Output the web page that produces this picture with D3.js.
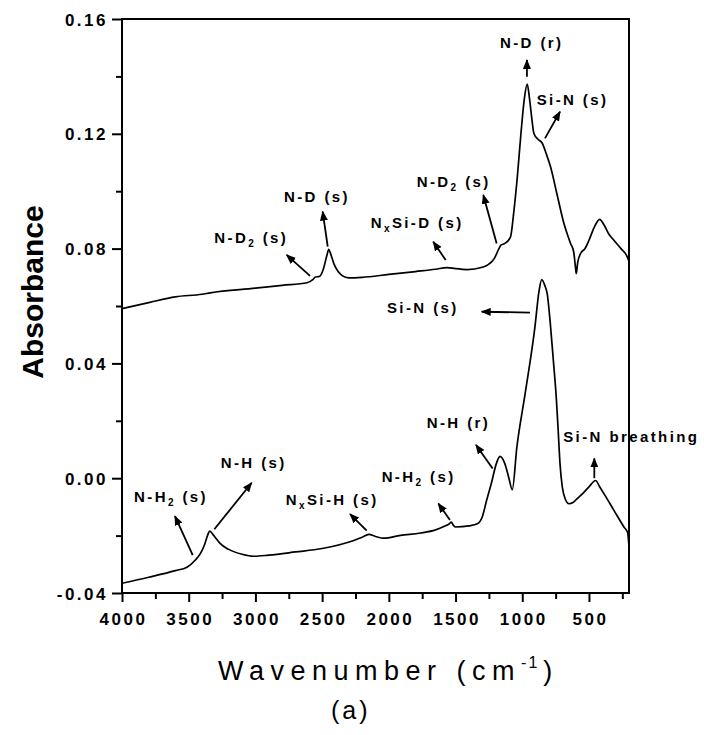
<!DOCTYPE html>
<html lang='en'>
  <meta charset='utf-8'>
  <style>
    body{ margin: 0; background: #fff; }
    svg{ display: block; }
    text{ font-family: 'Liberation Sans', Arial, sans-serif; fill: #000; }
    .tick-label{ font-size: 17px; font-weight: bold; letter-spacing: 2.5px; }
    .note{ font-size: 15px; font-weight: bold; letter-spacing: 2.4px; }
    .ytitle{ font-size: 30px; font-weight: bold; }
    .xtitle{ font-size: 27px; letter-spacing: 6.5px; }
    .panel{ font-size: 25px; letter-spacing: 3px; }
  </style>
  <body>
    <svg id='chart' width='704' height='735'></svg>

    <script src='https://d3js.org/d3.v7.min.js'></script>
    <script>
      // deuterated film (upper trace)
      const ndWave = [4000, 3800, 3600, 3400, 3338, 3000, 2800, 2613, 2570, 2550, 2520, 2490, 2465, 2450, 2435, 2410, 2380, 2350, 2300, 2200, 2000, 1800, 1650, 1563, 1500, 1413, 1300, 1263, 1210, 1175, 1160, 1130, 1088, 1062, 1037, 1010, 985, 963, 945, 925, 913, 880, 850, 820, 788, 740, 688, 638, 615, 600, 595, 585, 563, 530, 500, 460, 420, 390, 350, 313, 260, 213, 200]
      const ndAbs = [0.0591, 0.0612, 0.0632, 0.0641, 0.0646, 0.0662, 0.0672, 0.0681, 0.0692, 0.0701, 0.0703, 0.0730, 0.0775, 0.0797, 0.0780, 0.0745, 0.0720, 0.0706, 0.0698, 0.0700, 0.0710, 0.0720, 0.0728, 0.0734, 0.0730, 0.0727, 0.0735, 0.0742, 0.0765, 0.0800, 0.0812, 0.0818, 0.0841, 0.0934, 0.1050, 0.1200, 0.1320, 0.1373, 0.1320, 0.1240, 0.1201, 0.1180, 0.1167, 0.1130, 0.1085, 0.0990, 0.0888, 0.0818, 0.0790, 0.0730, 0.0713, 0.0750, 0.0783, 0.0800, 0.0829, 0.0875, 0.0902, 0.0885, 0.0850, 0.0829, 0.0800, 0.0771, 0.0755]

      // hydrogenated film (lower trace)
      const nhWave = [4000, 3800, 3600, 3513, 3450, 3413, 3380, 3355, 3343, 3320, 3290, 3263, 3200, 3100, 3013, 2900, 2700, 2500, 2263, 2200, 2150, 2100, 2038, 1913, 1763, 1650, 1588, 1545, 1533, 1515, 1500, 1400, 1337, 1300, 1267, 1230, 1195, 1167, 1130, 1100, 1075, 1040, 980, 905, 875, 854, 830, 813, 790, 767, 745, 730, 717, 700, 680, 650, 620, 588, 540, 500, 450, 420, 380, 313, 238, 210, 200]
      const nhAbs = [-0.0366, -0.0345, -0.0322, -0.0310, -0.0285, -0.0263, -0.0230, -0.0195, -0.0184, -0.0195, -0.0213, -0.0228, -0.0248, -0.0265, -0.0272, -0.0268, -0.0257, -0.0245, -0.0217, -0.0206, -0.0196, -0.0203, -0.0209, -0.0199, -0.0191, -0.0180, -0.0168, -0.0158, -0.0153, -0.0165, -0.0170, -0.0166, -0.0159, -0.0135, -0.0077, -0.0015, 0.0050, 0.0076, 0.0050, 0.0000, -0.0040, 0.0110, 0.0290, 0.0527, 0.0650, 0.0692, 0.0670, 0.0643, 0.0540, 0.0410, 0.0280, 0.0160, 0.0050, -0.0030, -0.0070, -0.0089, -0.0085, -0.0071, -0.0050, -0.0030, -0.0008, -0.0030, -0.0060, -0.0112, -0.0170, -0.0190, -0.0240]

      const xTicks = [4000, 3500, 3000, 2500, 2000, 1500, 1000, 500]
      const xMinor = [3750, 3250, 2750, 2250, 1750, 1250, 750, 250]
      const yTicks = [-0.04, 0.00, 0.04, 0.08, 0.12, 0.16]
      const yMinor = [-0.02, 0.02, 0.06, 0.10, 0.14]

      // band assignments: label, label anchor (wavenumber, absorbance), arrow tail, arrow head
      const noteText = ['N-D (r)', 'Si-N (s)', 'N-D|2| (s)', 'N|x|Si-D (s)', 'N-D (s)', 'N-D|2| (s)',
                        'Si-N (s)', 'N-H (r)', 'Si-N breathing', 'N-H|2| (s)', 'N|x|Si-H (s)', 'N-H (s)', 'N-H|2| (s)']
      const noteAt = [[1167, 0.1498], [892, 0.1300], [1791, 0.1014], [2136, 0.0871], [2786, 0.0963], [3308, 0.0818],
                      [2014, 0.0575], [1716, 0.0174], [693, 0.0126], [2054, -0.0012], [2773, -0.0093], [3260, 0.0035], [3910, -0.0082]]
      const arrowFrom = [[965, 0.1399], [830, 0.1184], [1192, 0.0818], [1574, 0.0760], [2458, 0.0807], [2591, 0.0705],
                         [942, 0.0577], [1222, 0.0034], [460, 0.0000], [1542, -0.0146], [2166, -0.0183], [3308, -0.0178], [3470, -0.0268]]
      const arrowTo = [[965, 0.1457], [717, 0.1277], [1292, 0.0987], [1667, 0.0824], [2496, 0.0929], [2766, 0.0778],
                       [1304, 0.0580], [1347, 0.0116], [460, 0.0069], [1629, -0.0088], [2291, -0.0125], [3028, -0.0016], [3603, -0.0132]]

      const svg = d3.select('#chart')
      const box = {left: 122, right: 629, top: 19, bottom: 593}

      const x = d3.scaleLinear().domain([4000, 200]).range([box.left, box.right])
      const y = d3.scaleLinear().domain([-0.04, 0.16]).range([box.bottom, box.top])

      // curves
      const line = d3.line()
        .x(d => x(d[0]))
        .y(d => y(d[1]))
        .curve(d3.curveMonotoneX)

      const traces = [d3.zip(ndWave, ndAbs), d3.zip(nhWave, nhAbs)]
      svg.append('g')
        .selectAll('path')
        .data(traces)
        .join('path')
        .attr('d', line)
        .attr('fill', 'none')
        .attr('stroke', '#000')
        .attr('stroke-width', 1.7)
        .attr('stroke-linejoin', 'round')

      // frame
      svg.append('rect')
        .attr('x', box.left).attr('y', box.top)
        .attr('width', box.right - box.left).attr('height', box.bottom - box.top)
        .attr('fill', 'none').attr('stroke', '#000').attr('stroke-width', 2)

      // axes
      const xAxis = svg.append('g').attr('transform', `translate(0,${box.bottom})`)
      xAxis.call(d3.axisBottom(x).tickValues(xTicks).tickSize(9).tickFormat(d3.format('d')))
      xAxis.append('g').call(d3.axisBottom(x).tickValues(xMinor).tickSize(6).tickFormat(''))
      xAxis.selectAll('.domain').remove()
      xAxis.selectAll('line').attr('stroke-width', 2)
      xAxis.selectAll('text').attr('class', 'tick-label').attr('y', 20).attr('dy', '0.71em').attr('dx', '1px')

      const yFormat = d => d3.format('.2f')(d).replace('\u2212', '-')
      const yAxis = svg.append('g').attr('transform', `translate(${box.left},0)`)
      yAxis.call(d3.axisLeft(y).tickValues(yTicks).tickSize(10).tickFormat(yFormat))
      yAxis.append('g').call(d3.axisLeft(y).tickValues(yMinor).tickSize(6).tickFormat(''))
      yAxis.selectAll('.domain').remove()
      yAxis.selectAll('line').attr('stroke-width', 2)
      yAxis.selectAll('text').attr('class', 'tick-label').attr('x', -14).attr('dy', '0.36em')

      // axis titles
      svg.append('text').attr('class', 'ytitle')
        .attr('transform', 'translate(43,292) rotate(-90)')
        .attr('text-anchor', 'middle')
        .text('Absorbance')

      const xt = svg.append('text').attr('class', 'xtitle').attr('x', 218).attr('y', 680)
      xt.append('tspan').text('Wavenumber (cm')
      xt.append('tspan').attr('font-size', '16px').attr('letter-spacing', '2px').attr('dy', -12).text('-1')
      xt.append('tspan').attr('dy', 12).attr('dx', 4).text(')')

      svg.append('text').attr('class', 'panel').attr('x', 331).attr('y', 719).text('(a)')

      // arrow heads
      svg.append('defs').append('marker')
        .attr('id', 'head')
        .attr('markerUnits', 'userSpaceOnUse')
        .attr('viewBox', '0 0 10 8')
        .attr('refX', 9).attr('refY', 4)
        .attr('markerWidth', 10).attr('markerHeight', 8)
        .attr('orient', 'auto')
        .append('path').attr('d', 'M0,0L10,4L0,8Z').attr('fill', '#000')

      svg.append('g')
        .selectAll('line')
        .data(d3.range(noteText.length))
        .join('line')
        .attr('x1', i => x(arrowFrom[i][0])).attr('y1', i => y(arrowFrom[i][1]))
        .attr('x2', i => x(arrowTo[i][0])).attr('y2', i => y(arrowTo[i][1]))
        .attr('stroke', '#000').attr('stroke-width', 1.8)
        .attr('marker-end', 'url(#head)')

      // labels, |..| marks a subscript
      const notes = svg.append('g')
        .selectAll('text')
        .data(d3.range(noteText.length))
        .join('text')
        .attr('class', 'note')
        .attr('x', i => x(noteAt[i][0]))
        .attr('y', i => y(noteAt[i][1]))

      notes.each(function(i) {
        const t = d3.select(this)
        noteText[i].split('|').forEach((part, k) => {
          if (k % 2 === 1) {
            t.append('tspan').attr('font-size', '10px').attr('dy', 4).text(part)
          } else {
            t.append('tspan').attr('dy', k === 0 ? 0 : -4).text(part)
          }
        })
      })
    </script>
</body>
</html>
